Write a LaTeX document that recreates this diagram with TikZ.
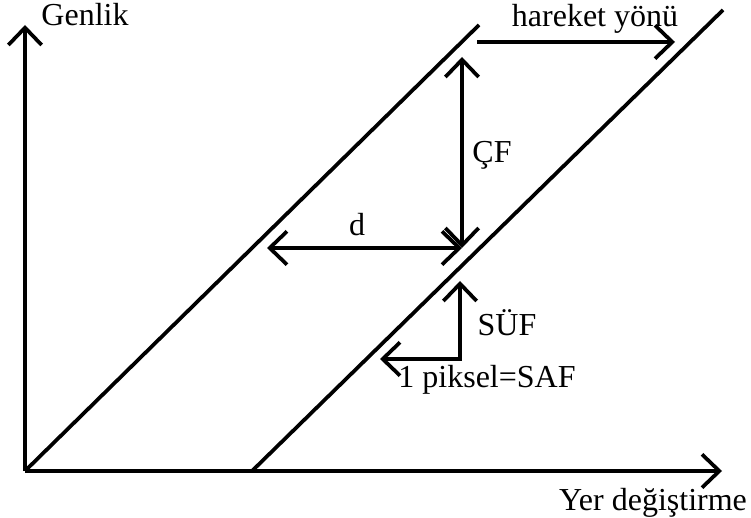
\documentclass[tikz,border=0pt]{standalone}
\usepackage{fontspec}
\setmainfont{Liberation Serif}
\usetikzlibrary{arrows.meta}

\begin{document}
\begin{tikzpicture}[
			x=0.375pt, y=0.375pt,
			>={Straight Barb[length=6.5pt,width=12.5pt]},
			line/.style={line width=1.4pt},
			label node/.style={font=\fontsize{12}{14}\selectfont, inner sep=0pt}
			]
			\useasboundingbox (0,0) rectangle (751,517);
			
			% axes
			\coordinate (o) at (25,46);
			\coordinate (ytop) at (25,492);
			\coordinate (xend) at (722,46);
			\draw [line, ->] (o) -- (ytop);
			\draw [line, ->] (o) -- (xend);
			\node[label node] (genlik) at (85,502) {Genlik};
			\node[label node] (yer) at (653,14) {Yer de\u{g}i\c{s}tirme};
			
			% the two edges
			\coordinate (e1b) at (25,46);
			\coordinate (e1t) at (479,492);
			\coordinate (e2b) at (252,46);
			\coordinate (e2t) at (723,507);
			\draw [line] (e1b) -- (e1t);
			\draw [line] (e2b) -- (e2t);
			
			% direction of motion
			\coordinate (h1) at (477,475);
			\coordinate (h2) at (675,475);
			\draw [line, ->] (h1) -- (h2);
			\node[label node] (hareket) at (595,498) {hareket y\"on\"u};
			
			% CF and d
			\coordinate (cftop) at (462,460);
			\coordinate (cfbot) at (462,269);
			\coordinate (dleft) at (267,269);
			\draw [line, <->] (cftop) -- (cfbot);
			\node[label node] (cf) at (492,362) {\c{C}F};
			\draw [line, <->] (dleft) -- (cfbot);
			\node[label node] (d) at (357,292) {d};
			
			% one pixel step
			\coordinate (suftop) at (460,236);
			\coordinate (corner) at (460,158);
			\coordinate (safend) at (380,158);
			\draw [line, <->] (safend) -- (corner) -- (suftop);
			\node[label node] (suf) at (507,194) {S\"UF};
			\node[label node] (saf) at (487,137) {1 piksel=SAF};
			
		\end{tikzpicture}
\end{document}
